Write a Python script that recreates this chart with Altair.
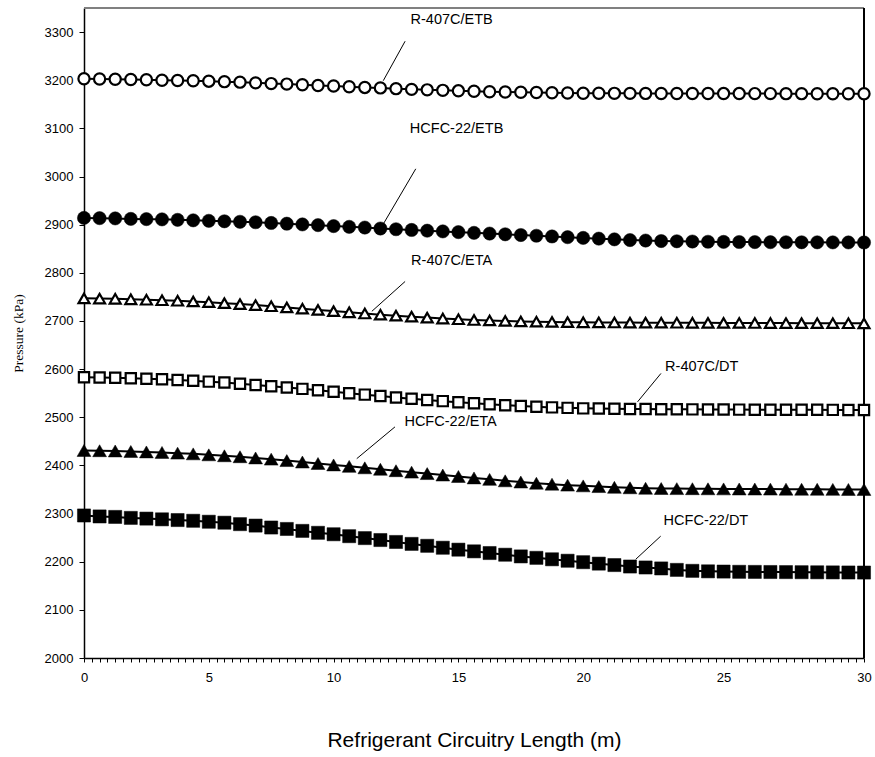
import altair as alt
import pandas as pd

# x positions (m) of the data points
x_m = [0, 0.6, 1.2, 1.8, 2.4, 3.0, 3.6, 4.2, 4.8, 5.4,
       6.0, 6.6, 7.2, 7.8, 8.4, 9.0, 9.6, 10.2, 10.8, 11.4,
       12.0, 12.6, 13.2, 13.8, 14.4, 15.0, 15.6, 16.2, 16.8, 17.4,
       18.0, 18.6, 19.2, 19.8, 20.4, 21.0, 21.6, 22.2, 22.8, 23.4,
       24.0, 24.6, 25.2, 25.8, 26.4, 27.0, 27.6, 28.2, 28.8, 29.4, 30.0]

r407c_etb = [3203, 3202.5, 3202, 3201.5, 3201, 3200, 3199.5, 3199, 3198, 3197,
             3196, 3194.5, 3193, 3192, 3190.5, 3189, 3188, 3186.5, 3185, 3184,
             3182.5, 3181, 3180, 3179, 3178, 3177, 3176, 3175.5, 3175, 3174.5,
             3174, 3173.5, 3173, 3173, 3172.8, 3172.7, 3172.6, 3172.5, 3172.5, 3172.4,
             3172.4, 3172.3, 3172.3, 3172.2, 3172.2, 3172.1, 3172.1, 3172, 3172, 3172, 3172]

hcfc22_etb = [2914, 2913.5, 2913, 2912, 2911.5, 2911, 2910, 2909, 2908, 2907,
              2906, 2905, 2903.5, 2902, 2900.5, 2899, 2897, 2895.5, 2894, 2892,
              2890.5, 2889, 2887.5, 2886, 2884.5, 2883, 2881.5, 2880, 2878.5, 2877,
              2875.5, 2874, 2872.5, 2871, 2869.5, 2868, 2867, 2866, 2865.5, 2865,
              2864.5, 2864.2, 2864, 2863.8, 2863.6, 2863.5, 2863.4, 2863.3, 2863.2, 2863.1, 2863]

r407c_eta = [2747, 2746.5, 2746, 2745, 2744, 2743, 2742, 2740.5, 2739, 2737,
             2735, 2733, 2730.5, 2728, 2725.5, 2723, 2720.5, 2718, 2715.5, 2713,
             2711, 2709, 2707, 2705, 2703.5, 2702, 2701, 2700, 2699, 2698.5,
             2698, 2697.5, 2697.2, 2697, 2696.8, 2696.6, 2696.5, 2696.4, 2696.3, 2696.2,
             2696.1, 2696, 2695.9, 2695.8, 2695.7, 2695.6, 2695.5, 2695.4, 2695.3, 2695.2, 2695]

r407c_dt = [2583, 2582.5, 2582, 2581, 2580, 2579, 2577.5, 2576, 2574, 2572,
            2569.5, 2567, 2564.5, 2562, 2559, 2556, 2553, 2550, 2547, 2544,
            2541, 2538.5, 2536, 2533.5, 2531, 2529, 2527, 2525, 2523.5, 2522,
            2520.5, 2519.5, 2518.5, 2518, 2517.5, 2517.2, 2517, 2516.8, 2516.6, 2516.4,
            2516.2, 2516, 2515.9, 2515.8, 2515.7, 2515.6, 2515.5, 2515.4, 2515.3, 2515.2, 2515]

hcfc22_eta = [2431, 2430.5, 2430, 2429, 2428, 2427, 2425.5, 2424, 2422, 2420,
              2418, 2415.5, 2413, 2410, 2407, 2404, 2401, 2398, 2395, 2392,
              2389, 2386, 2383, 2380, 2377, 2374, 2371, 2368, 2365.5, 2363,
              2361, 2359, 2357.5, 2356, 2354.5, 2353.5, 2352.5, 2352, 2351.8, 2351.6,
              2351.4, 2351.2, 2351, 2350.9, 2350.8, 2350.6, 2350.5, 2350.4, 2350.2, 2350.1, 2350]

hcfc22_dt = [2296, 2294, 2293, 2291, 2289.5, 2288, 2286.5, 2285, 2283, 2281,
             2278, 2275, 2271, 2268, 2264, 2260, 2257, 2253, 2249, 2245,
             2241, 2237, 2233, 2229, 2225, 2221.5, 2218, 2214.5, 2211, 2208,
             2205, 2202, 2199, 2196, 2193, 2190, 2188, 2186, 2183, 2181,
             2180, 2179.5, 2179, 2178.8, 2178.6, 2178.4, 2178.2, 2178, 2177.8, 2177.6, 2177.5]

series_names = ["R-407C/ETB", "HCFC-22/ETB", "R-407C/ETA", "R-407C/DT", "HCFC-22/ETA", "HCFC-22/DT"]
series_values = [r407c_etb, hcfc22_etb, r407c_eta, r407c_dt, hcfc22_eta, hcfc22_dt]
series_shapes = ["circle", "circle", "triangle-up", "square", "triangle-up", "square"]
series_open = [True, False, True, True, False, False]
series_sizes = [125, 175, 120, 105, 190, 172]

# annotation labels and leader lines (data coordinates)
ann_labels = ["R-407C/ETB", "HCFC-22/ETB", "R-407C/ETA", "HCFC-22/ETA", "R-407C/DT", "HCFC-22/DT"]
ann_tx = [14.14, 14.33, 14.14, 14.10, 23.76, 23.92]
ann_ty = [3325, 3099, 2825, 2490, 2605, 2284]
lead_x1 = [12.35, 12.76, 12.35, 11.96, 22.19, 22.18]
lead_y1 = [3281, 3016, 2782, 2480, 2591, 2253]
lead_x2 = [11.51, 11.53, 11.07, 10.49, 21.29, 21.22]
lead_y2 = [3199, 2903, 2720, 2414, 2532, 2205]

# axis ticks / labels
y_ticks = [2000, 2100, 2200, 2300, 2400, 2500, 2600, 2700, 2800, 2900, 3000, 3100, 3200, 3300]
x_minor_ticks = [round(i * 0.3, 1) for i in range(101)]
x_label_pos = [0, 4.8, 9.6, 14.4, 19.2, 24.6, 30]
x_labels = ["0", "5", "10", "15", "20", "25", "30"]

rows = []
for name, vals in zip(series_names, series_values):
    for xv, yv in zip(x_m, vals):
        rows.append({"series": name, "x": xv, "y": yv})
df = pd.DataFrame(rows)

ann_df = pd.DataFrame({"label": ann_labels, "x": ann_tx, "y": ann_ty})
lead_df = pd.DataFrame({"x": lead_x1, "y": lead_y1, "x2": lead_x2, "y2": lead_y2})

label_expr = ""
for pos, lab in zip(x_label_pos, x_labels):
    label_expr += f"abs(datum.value - {pos}) < 0.05 ? '{lab}' : "
label_expr += "''"

FONT = "Liberation Sans"

xscale = alt.Scale(domain=[0, 30], nice=False, zero=False)
yscale = alt.Scale(domain=[2000, 3350], nice=False, zero=False)

xaxis = alt.Axis(
    title="Refrigerant Circuitry Length (m)", values=x_minor_ticks, tickCount=500,
    labelExpr=label_expr,
    labelOverlap=False, labelFlush=False, labelBound=False, grid=False, tickSize=4, tickColor="black",
    domainColor="black", domainWidth=1.5, labelFont=FONT, labelFontSize=13, labelColor="black",
    labelPadding=9, titleFont=FONT, titleFontSize=21, titleFontWeight="normal", titleColor="black",
    titleY=82, titleBaseline="middle", titleAnchor="middle",
)
yaxis = alt.Axis(
    title="Pressure (kPa)", values=y_ticks, tickCount=100, format="d", grid=False, tickSize=5,
    tickColor="black",
    domainColor="black", domainWidth=1.5, labelFont=FONT, labelFontSize=13, labelColor="black",
    labelPadding=6, titleFont="Liberation Serif", titleFontSize=13.5, titleFontWeight="normal",
    titleColor="black", titleX=-66, titleY=325, titleAngle=-90, titleBaseline="middle",
    titleAlign="center",
)

X = alt.X("x:Q", scale=xscale, axis=xaxis)
Y = alt.Y("y:Q", scale=yscale, axis=yaxis)

base = alt.Chart(df)
layers = []

# frame: top (gray) and right (black)
layers.append(alt.Chart(df).mark_rule(color="#808080", strokeWidth=1.2).encode(y=alt.datum(3350)))
layers.append(alt.Chart(df).mark_rule(color="black", strokeWidth=1.2).encode(x=alt.datum(30)))

for name, shape, is_open, size in zip(series_names, series_shapes, series_open, series_sizes):
    sub = base.transform_filter(alt.datum.series == name)
    layers.append(sub.mark_line(color="black", strokeWidth=2).encode(x=X, y=Y))
    if is_open:
        pt = sub.mark_point(shape=shape, filled=True, fill="white", stroke="black",
                            strokeWidth=2.2, size=size, opacity=1)
    else:
        pt = sub.mark_point(shape=shape, filled=True, fill="black", stroke="black",
                            strokeWidth=0.5, size=size, opacity=1)
    layers.append(pt.encode(x=X, y=Y))

layers.append(alt.Chart(lead_df).mark_rule(color="black", strokeWidth=1).encode(
    x=X, y=Y, x2="x2:Q", y2="y2:Q"))
layers.append(alt.Chart(ann_df).mark_text(font=FONT, fontSize=14.5, color="black",
                                          align="center", baseline="middle").encode(
    x=X, y=Y, text="label:N"))

chart = alt.layer(*layers).properties(
    width=780, height=650,
    autosize=alt.AutoSizeParams(type="none"),
    padding={"left": 84, "top": 8, "right": 11, "bottom": 99},
    background="white",
).configure_view(stroke=None)

chart.save("out.html", embed_options={"renderer": "svg", "actions": False})
